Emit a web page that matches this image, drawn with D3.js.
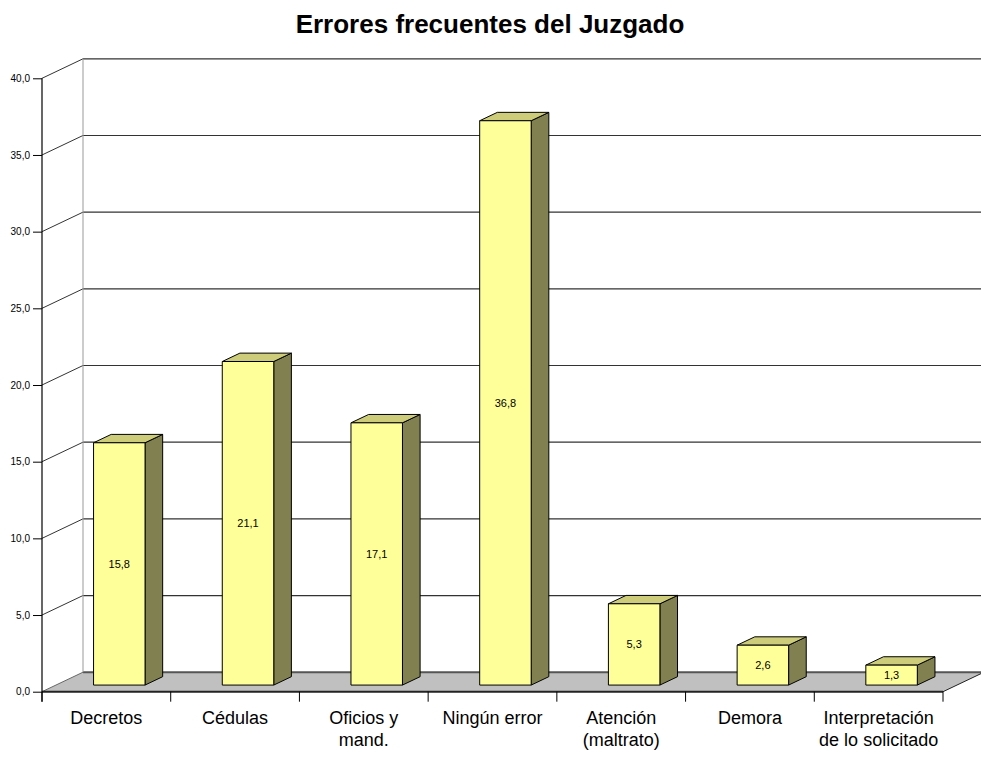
<!DOCTYPE html>
<html>
<head>
<meta charset="utf-8">
<script src="https://cdn.jsdelivr.net/npm/d3@7"></script>
<style>
  html, body { margin: 0; padding: 0; background: #fff; }
  svg { display: block; font-family: "Liberation Sans", Arial, sans-serif; }
</style>
</head>
<body>
<svg id="chart" width="981" height="761"></svg>
<script>
// Data
const categories = ["Decretos", "Cédulas", "Oficios y\nmand.", "Ningún error", "Atención\n(maltrato)", "Demora", "Interpretación\nde lo solicitado"];
const values = [15.8, 21.1, 17.1, 36.8, 5.3, 2.6, 1.3];
const yTicks = [0, 5, 10, 15, 20, 25, 30, 35, 40];
const title = "Errores frecuentes del Juzgado";

const svg = d3.select("#chart");
const locale = d3.formatLocale({ decimal: ",", thousands: ".", grouping: [3], currency: ["", "€"] });
const fmt1 = locale.format(".1f");

// Front plane scales
const y = d3.scaleLinear().domain([0, 40]).range([691.7, 78.3]);
const x = d3.scaleBand().domain(categories).range([41, 942]).paddingInner(0.6).paddingOuter(0.3);
const axisLeft = 42, axisRight = 943;

// Oblique depth of the plot box
const DX = 41, DY = -19.5;
// Bars occupy this slice of the depth
const t0 = 0.34, t1 = 0.77;

// Title
svg.append("text")
  .attr("x", 490).attr("y", 33)
  .attr("text-anchor", "middle")
  .attr("font-size", 26).attr("font-weight", "bold")
  .attr("fill", "#000")
  .text(title);

// Floor
const y0 = y(0);
svg.append("polygon")
  .attr("points", [[axisLeft, y0], [axisRight, y0], [axisRight + DX, y0 + DY], [axisLeft + DX, y0 + DY]].map(p => p.join(",")).join(" "))
  .attr("fill", "#c0c0c0").attr("stroke", "none");
svg.append("line")
  .attr("x1", axisLeft + DX).attr("x2", axisRight + DX)
  .attr("y1", y0 + DY).attr("y2", y0 + DY)
  .attr("stroke", "#555").attr("stroke-width", 2);
svg.append("line")
  .attr("x1", axisRight).attr("x2", axisRight + DX)
  .attr("y1", y0).attr("y2", y0 + DY)
  .attr("stroke", "#222").attr("stroke-width", 1);
svg.append("line")
  .attr("x1", axisLeft).attr("x2", axisLeft + DX)
  .attr("y1", y0).attr("y2", y0 + DY)
  .attr("stroke", "#666").attr("stroke-width", 1);

// Back wall gridlines and side wall diagonals
const grid = svg.append("g");
yTicks.filter(v => v > 0).forEach(v => {
  const yy = y(v);
  grid.append("line")
    .attr("x1", axisLeft).attr("y1", yy)
    .attr("x2", axisLeft + DX).attr("y2", yy + DY)
    .attr("stroke", "#333").attr("stroke-width", 1);
  grid.append("line")
    .attr("x1", axisLeft + DX).attr("x2", 985)
    .attr("y1", yy + DY).attr("y2", yy + DY)
    .attr("stroke", "#333").attr("stroke-width", 1.2);
});
// Left wall back edge
svg.append("line")
  .attr("x1", axisLeft + DX).attr("x2", axisLeft + DX)
  .attr("y1", y(40) + DY).attr("y2", y0 + DY)
  .attr("stroke", "#999").attr("stroke-width", 1);

// Bars
const ox0 = DX * t0, oy0 = DY * t0;
const bdx = DX * (t1 - t0), bdy = DY * (t1 - t0);
const bars = svg.append("g");
categories.forEach((c, i) => {
  const v = values[i];
  const xl = x(c) + ox0, xr = x(c) + x.bandwidth() + ox0;
  const yt = y(v) + oy0, yb = y(0) + oy0;
  const g = bars.append("g").attr("stroke", "#000").attr("stroke-width", 1).attr("stroke-linejoin", "round");
  // side face
  g.append("polygon")
    .attr("points", [[xr, yb], [xr + bdx, yb + bdy], [xr + bdx, yt + bdy], [xr, yt]].map(p => p.join(",")).join(" "))
    .attr("fill", "#808050");
  // top face
  g.append("polygon")
    .attr("points", [[xl, yt], [xr, yt], [xr + bdx, yt + bdy], [xl + bdx, yt + bdy]].map(p => p.join(",")).join(" "))
    .attr("fill", "#cccc7a");
  // front face
  g.append("rect")
    .attr("x", xl).attr("y", yt)
    .attr("width", xr - xl).attr("height", yb - yt)
    .attr("fill", "#ffff99");
  // value label
  bars.append("text")
    .attr("x", (xl + xr) / 2).attr("y", (yt + yb) / 2)
    .attr("dy", "0.35em")
    .attr("text-anchor", "middle")
    .attr("font-size", 11).attr("fill", "#000")
    .text(fmt1(v));
});

// Front floor edge (category axis)
svg.append("line")
  .attr("x1", axisLeft).attr("x2", axisRight)
  .attr("y1", y0).attr("y2", y0)
  .attr("stroke", "#222").attr("stroke-width", 2);

// Category ticks
const step = (axisRight - axisLeft) / categories.length;
d3.range(categories.length + 1).forEach(i => {
  svg.append("line")
    .attr("x1", axisLeft + i * step).attr("x2", axisLeft + i * step)
    .attr("y1", y0).attr("y2", y0 + 10)
    .attr("stroke", "#000").attr("stroke-width", 1);
});

// Category labels
categories.forEach((c, i) => {
  const cx = axisLeft + (i + 0.5) * step;
  const t = svg.append("text")
    .attr("x", cx).attr("y", 724)
    .attr("text-anchor", "middle")
    .attr("font-size", 18).attr("fill", "#000");
  c.split("\n").forEach((line, k) => {
    t.append("tspan").attr("x", cx).attr("y", 724 + k * 22).text(line);
  });
});

// Value axis
const yAxis = d3.axisLeft(y).tickValues(yTicks).tickSize(9).tickPadding(3).tickFormat(fmt1);
const ag = svg.append("g").attr("transform", `translate(${axisLeft},0)`).call(yAxis);
ag.select(".domain").remove();
ag.selectAll("line").attr("stroke", "#000");
ag.selectAll("text").attr("font-size", 10).attr("fill", "#000").attr("font-family", "\"Liberation Sans\", Arial, sans-serif");
svg.append("line")
  .attr("x1", axisLeft).attr("x2", axisLeft)
  .attr("y1", y(40)).attr("y2", y0 + 10)
  .attr("stroke", "#000").attr("stroke-width", 1.2);
</script>
</body>
</html>
